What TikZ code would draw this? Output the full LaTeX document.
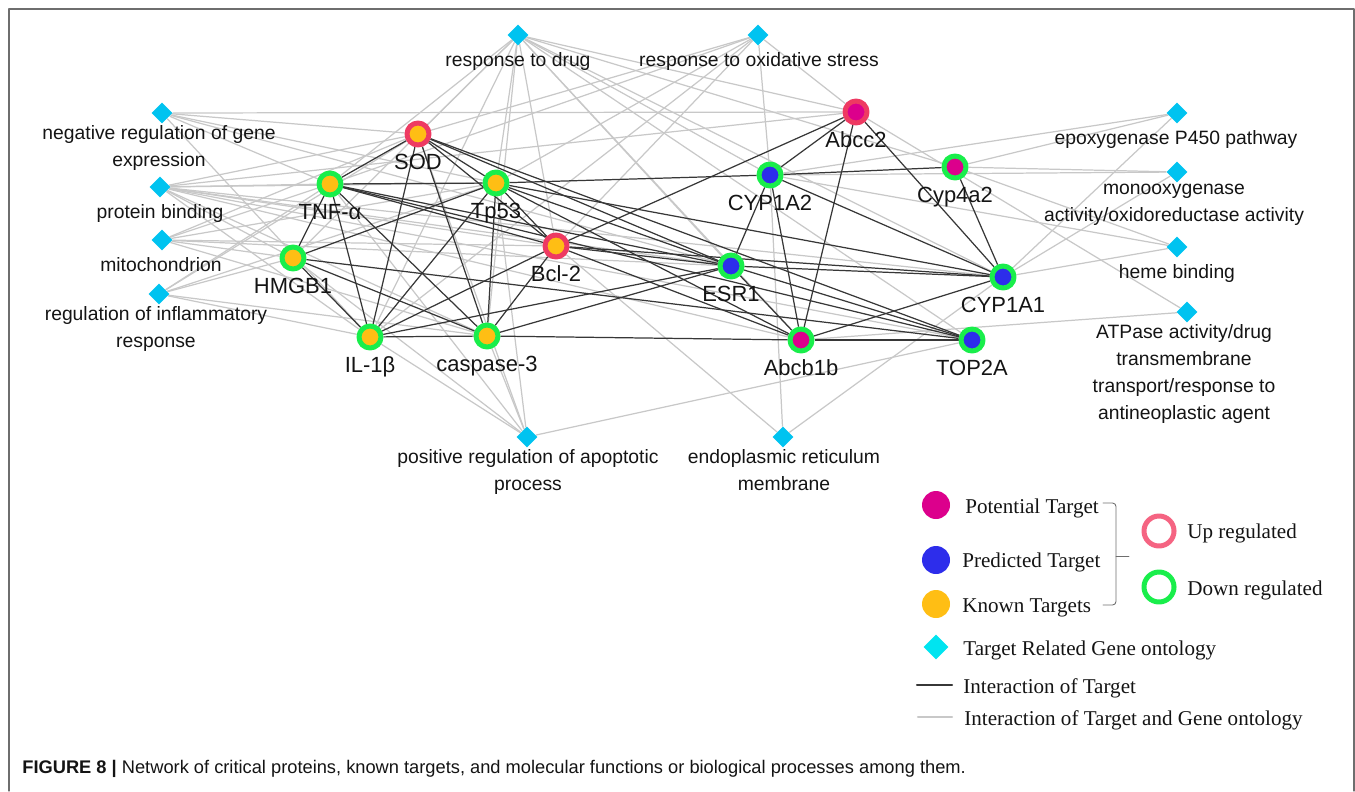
\documentclass[tikz,border=0pt]{standalone}
\usepackage{fontspec}
\setmainfont{Liberation Serif}
\setsansfont{Liberation Sans}
\usetikzlibrary{shapes.geometric,calc,backgrounds}
\definecolor{txt}{RGB}{20,20,20}
\definecolor{ringup}{RGB}{238,58,98}
\definecolor{ringdn}{RGB}{25,238,75}
\definecolor{corey}{RGB}{255,190,20}
\definecolor{coreb}{RGB}{45,45,235}
\definecolor{corem}{RGB}{220,0,140}
\definecolor{gocol}{RGB}{0,195,240}
\definecolor{ltt}{RGB}{55,55,55}
\definecolor{ltg}{RGB}{200,200,200}
\definecolor{lgup}{RGB}{245,100,130}
\definecolor{lggo}{RGB}{0,228,240}
\definecolor{frm}{RGB}{110,110,110}
\tikzset{
  every picture/.style={x=0.02cm, y=-0.02cm, line cap=round, line join=round},
  % Knoten
  prot/.style={circle, inner sep=0pt, minimum size=0.44cm, line width=0.1cm},
  up/.style={prot, draw=ringup},
  down/.style={prot, draw=ringdn},
  pot/.style={fill=corem},
  pred/.style={fill=coreb},
  known/.style={fill=corey},
  go/.style={diamond, fill=gocol, inner sep=0pt, minimum size=0.42cm},
  % Kanten
  tt/.style={ltt, line width=0.7pt},
  tg/.style={ltg, line width=0.7pt},
  % Beschriftung
  plbl/.style={text=txt, font=\sffamily\fontsize{12.5}{15}\selectfont, anchor=base, inner sep=0pt},
  glbl/.style={text=txt, font=\sffamily\fontsize{11}{15.3}\selectfont, align=center, anchor=north,
    inner sep=0pt, execute at begin node=\strut},
  % Legende
  lgdot/.style={circle, inner sep=0pt, minimum size=0.56cm},
  lgring/.style={circle, inner sep=0pt, minimum size=0.6cm, line width=0.1cm},
  lgtxt/.style={text=txt, font=\fontsize{12}{14}\selectfont, anchor=base west, inner sep=0pt},
  brk/.style={frm, line width=0.5pt},
  frame/.style={frm, line width=0.6pt},
}

\begin{document}
\begin{tikzpicture}
  \useasboundingbox (0,0) rectangle (1355,791);
  \draw[frame] (9,791) -- (9,9) -- (1354,9) -- (1354,791);
  % Zielproteine
  \node[up, known]   (sod)    at (418,134) {};
  \node[down, known] (tnf)    at (330,184) {};
  \node[down, known] (tp53)   at (496,183) {};
  \node[down, known] (hmgb1)  at (293,258) {};
  \node[up, known]   (bcl2)   at (556,246) {};
  \node[down, known] (il1b)   at (370,337) {};
  \node[down, known] (casp3)  at (487,336) {};
  \node[down, pred]  (esr1)   at (731,266) {};
  \node[down, pred]  (cyp1a2) at (770,175) {};
  \node[up, pot]     (abcc2)  at (856,112) {};
  \node[down, pot]   (cyp4a2) at (955,167) {};
  \node[down, pred]  (cyp1a1) at (1003,277) {};
  \node[down, pred]  (top2a)  at (972,340) {};
  \node[down, pot]   (abcb1b) at (801,340) {};
  \foreach \n/\t in {sod/SOD, tnf/TNF-α, tp53/Tp53, hmgb1/HMGB1, bcl2/Bcl-2, il1b/IL-1β,
      casp3/caspase-3, esr1/ESR1, cyp1a2/CYP1A2, abcc2/Abcc2, cyp4a2/Cyp4a2,
      cyp1a1/CYP1A1, top2a/TOP2A, abcb1b/Abcb1b}
    \node[plbl] (\n-t) at ($(\n)+(0,35)$) {\t};
  % Gene-Ontology-Knoten
  \node[go] (drug)   at (518,35) {};
  \node[go] (oxid)   at (758,35) {};
  \node[go] (negreg) at (162,113) {};
  \node[go] (pbind)  at (160,187) {};
  \node[go] (mito)   at (162,240) {};
  \node[go] (infl)   at (159,294) {};
  \node[go] (posreg) at (527,437) {};
  \node[go] (ermem)  at (783,437) {};
  \node[go] (epoxy)  at (1177,113) {};
  \node[go] (monoox) at (1177,172) {};
  \node[go] (heme)   at (1177,247) {};
  \node[go] (atpase) at (1187,312) {};
  \node[glbl] (drug-t)   at ($(drug)+(0,12)$)   {response to drug};
  \node[glbl] (oxid-t)   at ($(oxid)+(1,12)$)   {response to oxidative stress};
  \node[glbl] (negreg-t) at ($(negreg)+(-3,12)$) {negative regulation of gene\\expression};
  \node[glbl] (pbind-t)  at ($(pbind)+(0,12)$)  {protein binding};
  \node[glbl] (mito-t)   at ($(mito)+(-1,12)$)  {mitochondrion};
  \node[glbl] (infl-t)   at ($(infl)+(-3,12)$)  {regulation of inflammatory\\response};
  \node[glbl] (posreg-t) at ($(posreg)+(1,12)$) {positive regulation of apoptotic\\process};
  \node[glbl] (ermem-t)  at ($(ermem)+(1,12)$)  {endoplasmic reticulum\\membrane};
  \node[glbl] (epoxy-t)  at ($(epoxy)+(-1,12)$) {epoxygenase P450 pathway};
  \node[glbl] (monoox-t) at ($(monoox)+(-3,12)$) {monooxygenase\\activity/oxidoreductase activity};
  \node[glbl] (heme-t)   at ($(heme)+(0,12)$)   {heme binding};
  \node[glbl] (atpase-t) at ($(atpase)+(-3,12)$) {ATPase activity/drug\\transmembrane\\transport/response to\\antineoplastic agent};
  % Kanten hinter den Knoten
  \begin{scope}[on background layer]
    \foreach \a/\b in {drug/sod, drug/tnf, drug/tp53, drug/hmgb1, drug/bcl2, drug/il1b, drug/casp3,
        drug/esr1, drug/cyp1a2, drug/abcc2, drug/abcb1b, drug/cyp1a1, drug/top2a, drug/cyp4a2,
        oxid/sod, oxid/tnf, oxid/tp53, oxid/bcl2, oxid/il1b, oxid/cyp1a2, oxid/abcc2,
        negreg/tnf, negreg/sod, negreg/tp53, negreg/esr1, negreg/il1b, negreg/abcc2,
        pbind/tnf, pbind/sod, pbind/tp53, pbind/hmgb1, pbind/bcl2, pbind/il1b, pbind/casp3,
        pbind/esr1, pbind/abcb1b, pbind/cyp1a1, pbind/top2a, pbind/abcc2,
        mito/tnf, mito/tp53, mito/hmgb1, mito/bcl2, mito/esr1, mito/casp3, mito/sod,
        infl/tnf, infl/tp53, infl/hmgb1, infl/il1b, infl/sod, infl/casp3,
        posreg/hmgb1, posreg/tnf, posreg/sod, posreg/il1b, posreg/casp3, posreg/tp53, posreg/top2a,
        ermem/bcl2, ermem/cyp1a2, ermem/cyp1a1,
        epoxy/cyp1a2, epoxy/cyp4a2, epoxy/cyp1a1,
        monoox/cyp1a2, monoox/cyp4a2, monoox/cyp1a1,
        heme/cyp1a2, heme/cyp4a2, heme/cyp1a1,
        atpase/abcc2, atpase/abcb1b}
      \draw[tg] (\a) -- (\b);
    \foreach \a/\b in {sod/tnf, sod/tp53, sod/bcl2, sod/il1b, sod/casp3, sod/esr1, sod/top2a,
        tnf/tp53, tnf/hmgb1, tnf/il1b, tnf/casp3, tnf/bcl2, tnf/esr1, tnf/top2a,
        tp53/hmgb1, tp53/il1b, tp53/casp3, tp53/bcl2, tp53/esr1, tp53/abcb1b, tp53/cyp1a1, tp53/cyp1a2,
        hmgb1/il1b, hmgb1/casp3, hmgb1/top2a,
        il1b/casp3, il1b/bcl2, il1b/esr1,
        casp3/bcl2, casp3/esr1, casp3/abcb1b,
        bcl2/esr1, bcl2/abcc2, bcl2/abcb1b, bcl2/cyp1a1,
        esr1/cyp1a2, esr1/cyp1a1, esr1/top2a, esr1/abcb1b,
        cyp1a2/abcc2, cyp1a2/abcb1b, cyp1a2/cyp4a2, cyp1a2/cyp1a1,
        abcc2/abcb1b, abcc2/cyp1a1, cyp4a2/cyp1a1, cyp1a1/abcb1b, abcb1b/top2a}
      \draw[tt] (\a) -- (\b);
  \end{scope}
  % Legende
  \node[lgdot, fill=corem] (lpot)   at (936,505) {};
  \node[lgdot, fill=coreb] (lpred)  at (936,560) {};
  \node[lgdot, fill=corey] (lknown) at (936,604) {};
  \node[diamond, fill=lggo, inner sep=0pt, minimum size=0.5cm] (lgo) at (936,647) {};
  \node[lgtxt] (lpot-t)   at (965,513) {Potential Target};
  \node[lgtxt] (lpred-t)  at (962,567) {Predicted Target};
  \node[lgtxt] (lknown-t) at (962,612) {Known Targets};
  \node[lgtxt] (lgo-t)    at (963,655) {Target Related Gene ontology};
  \draw[brk, rounded corners=2pt] (1103,503) -- (1116,503) -- (1116,605) -- (1103,605);
  \draw[brk] (1116,556) -- (1129,556);
  \node[lgring, draw=lgup]   (lup)   at (1159,531) {};
  \node[lgring, draw=ringdn] (ldown) at (1159,587) {};
  \node[lgtxt] (lup-t)   at (1187,538) {Up regulated};
  \node[lgtxt] (ldown-t) at (1187,595) {Down regulated};
  \coordinate (ltt-a) at (917,685);
  \coordinate (ltt-b) at (952,685);
  \coordinate (ltg-a) at (918,717);
  \coordinate (ltg-b) at (952,717);
  \draw[tt, line width=1.2pt] (ltt-a) -- (ltt-b);
  \draw[tg, line width=1.2pt] (ltg-a) -- (ltg-b);
  \node[lgtxt] (ltt-t) at (963,693) {Interaction of Target};
  \node[lgtxt] (ltg-t) at (964,725) {Interaction of Target and Gene ontology};
  % Bildunterschrift
  \node[text=txt, font=\sffamily\fontsize{10.4}{12}\selectfont, anchor=base west, inner sep=0pt] (cap) at (22,773)
    {\textbf{FIGURE 8 |} Network of critical proteins, known targets, and molecular functions or biological processes among them.};
\end{tikzpicture}
\end{document}
